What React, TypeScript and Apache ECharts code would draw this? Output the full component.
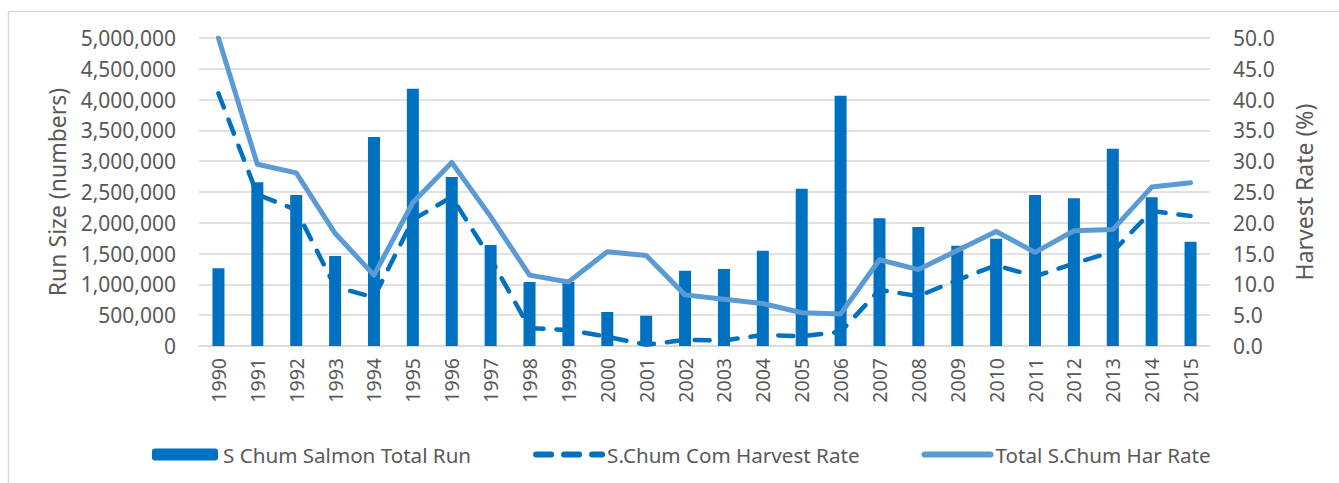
import React, { useEffect, useRef } from "react";
import * as echarts from "echarts";

const years = [
  "1990", "1991", "1992", "1993", "1994", "1995", "1996", "1997", "1998", "1999",
  "2000", "2001", "2002", "2003", "2004", "2005", "2006", "2007", "2008", "2009",
  "2010", "2011", "2012", "2013", "2014", "2015",
];

const totalRun = [
  1261000, 2657000, 2451000, 1461000, 3393000, 4177000, 2744000, 1640000, 1039000, 1040000,
  552000, 492000, 1223000, 1250000, 1548000, 2554000, 4064000, 2073000, 1932000, 1628000,
  1742000, 2451000, 2398000, 3203000, 2414000, 1693000,
];

const comHarvestRate = [
  41.0, 24.6, 22.1, 9.6, 7.9, 20.5, 24.2, 14.2, 2.9, 2.6,
  1.5, 0.2, 1.0, 0.9, 1.8, 1.6, 2.3, 9.1, 8.1, 10.7,
  13.1, 11.3, 13.4, 15.3, 21.9, 21.1,
];

const totalHarRate = [
  50.0, 29.5, 28.1, 18.3, 11.5, 23.3, 29.8, 21.0, 11.5, 10.4,
  15.3, 14.7, 8.3, 7.6, 6.9, 5.4, 5.2, 14.0, 12.4, 15.5,
  18.6, 15.2, 18.7, 18.9, 25.8, 26.5,
];

const seriesNames = ["S Chum Salmon Total Run", "S.Chum Com Harvest Rate", "Total S.Chum Har Rate"];

const TEXT = "#595959";
const GRID = "#D9D9D9";
const FONT = "'Noto Sans', 'Open Sans', sans-serif";

export default function App() {
  const ref = useRef<HTMLDivElement>(null);

  useEffect(() => {
    document.body.style.margin = "0";
    if (!ref.current) return;
    const chart = echarts.init(ref.current, undefined, { renderer: "svg" });
    chart.setOption({
      animation: false,
      textStyle: { fontFamily: FONT },
      graphic: [
        {
          type: "rect",
          left: 6,
          top: 9,
          shape: { width: 1400, height: 600 },
          style: { fill: "none", stroke: GRID, lineWidth: 1.5 },
          silent: true,
          z: -10,
        },
      ],
      grid: { left: 199, right: 129, top: 38, bottom: 137, containLabel: false },
      legend: {
        left: 147,
        top: 439,
        itemWidth: 66,
        itemHeight: 12,
        itemGap: 62,
        textStyle: { color: TEXT, fontSize: 20.6, fontFamily: FONT },
        data: [
          { name: seriesNames[0] },
          { name: seriesNames[1], itemStyle: { opacity: 0 }, lineStyle: { width: 6 } },
          { name: seriesNames[2], itemStyle: { opacity: 0 }, lineStyle: { width: 6 } },
        ],
      },
      xAxis: {
        type: "category",
        data: years,
        axisTick: { show: false },
        axisLine: { lineStyle: { color: GRID, width: 1.5 } },
        axisLabel: { rotate: 90, color: TEXT, fontSize: 19.5, margin: 12, fontFamily: FONT },
      },
      yAxis: [
        {
          type: "value",
          min: 0,
          max: 5000000,
          interval: 500000,
          name: "Run Size (numbers)",
          nameLocation: "middle",
          nameGap: 131,
          nameTextStyle: { color: TEXT, fontSize: 23, fontFamily: FONT },
          axisLabel: {
            color: TEXT,
            fontSize: 21,
            margin: 23,
            fontFamily: FONT,
            formatter: (v: number) => v.toLocaleString("en-US"),
          },
          splitLine: { lineStyle: { color: GRID, width: 1.5 } },
          axisLine: { show: false },
          axisTick: { show: false },
        },
        {
          type: "value",
          min: 0,
          max: 50,
          interval: 5,
          name: "Harvest Rate (%)",
          nameLocation: "middle",
          nameGap: 82,
          nameTextStyle: { color: TEXT, fontSize: 23, fontFamily: FONT },
          axisLabel: {
            color: TEXT,
            fontSize: 21,
            margin: 23,
            fontFamily: FONT,
            formatter: (v: number) => v.toFixed(1),
          },
          splitLine: { show: false },
          axisLine: { show: false },
          axisTick: { show: false },
        },
      ],
      series: [
        {
          name: seriesNames[0],
          type: "bar",
          data: totalRun,
          barWidth: 12,
          itemStyle: { color: "#0070C0" },
          yAxisIndex: 0,
        },
        {
          name: seriesNames[1],
          type: "line",
          data: comHarvestRate,
          yAxisIndex: 1,
          symbol: "none",
          itemStyle: { color: "#0070C0" },
          lineStyle: { color: "#0070C0", width: 4.5, type: [15, 13], cap: "round" },
        },
        {
          name: seriesNames[2],
          type: "line",
          data: totalHarRate,
          yAxisIndex: 1,
          symbol: "none",
          itemStyle: { color: "#5B9BD5" },
          lineStyle: { color: "#5B9BD5", width: 5, cap: "round", join: "round" },
        },
      ],
    });
    return () => chart.dispose();
  }, []);

  return (
    <div
      ref={ref}
      style={{ position: "absolute", left: 0, top: 0, width: 1339, height: 483 }}
    />
  );
}
